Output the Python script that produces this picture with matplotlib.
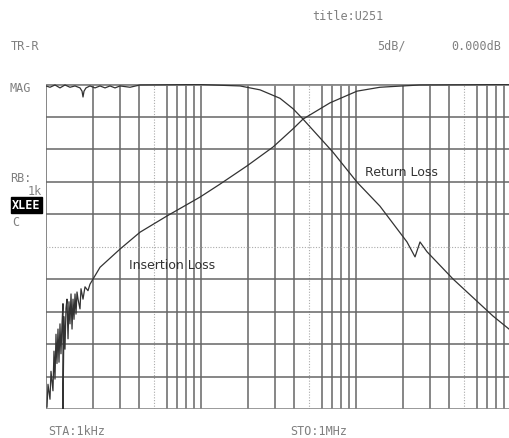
import numpy as np
import matplotlib
matplotlib.use("Agg")
import matplotlib.pyplot as plt

# insertion loss trace (Hz, dB)
ins_f = [1015, 1030, 1061, 1077, 1109, 1126, 1143, 1160, 1177, 1195, 1213, 1231, 1249, 1268,
         1287, 1287, 1307, 1326, 1346, 1366, 1387, 1407, 1428, 1450, 1472, 1494, 1516, 1539,
         1562, 1585, 1609, 1657, 1682, 1733, 1785, 1866, 1922, 2231, 3002, 4042,
         6035, 9852, 13270, 19810, 29140, 39220, 45510, 67960, 101500, 142800, 258000, 970000]
ins_db = [-49.7, -46.2, -48.5, -44.2, -47.2, -41.1, -45.4, -38.5, -43.0, -37.7, -42.8, -36.9, -41.5, -37.0,
          -33.8, -50.0, -35.8, -40.8, -34.5, -33.1, -39.2, -33.5, -36.9, -32.3, -37.7, -33.1, -36.2, -32.3,
          -35.4, -32.0, -33.1, -34.6, -31.5, -33.1, -31.2, -31.8, -30.8, -28.2, -25.4, -22.8,
          -20.3, -17.4, -15.4, -12.6, -9.7, -6.9, -5.4, -2.9, -1.1, -0.5, -0.15, -0.08]

# return loss trace (Hz, dB)
ret_f = [1000, 1061, 1143, 1231, 1326, 1428, 1539, 1657, 1708, 1733, 1759, 1811,
         1922, 2071, 2231, 2403, 2588, 2788, 3002, 3484, 4042, 9852, 17850, 24030,
         32330, 39220, 45510, 71080, 101500, 142800, 213300, 240300, 258800, 287000,
         422500, 765300, 970600]
ret_db = [-0.3, -0.5, -0.15, -0.6, -0.15, -0.5, -0.3, -0.6, -1.1, -2.0, -1.1, -0.6,
          -0.3, -0.6, -0.3, -0.6, -0.3, -0.6, -0.3, -0.5, -0.15, -0.08, -0.3, -0.9,
          -2.2, -3.8, -5.4, -10.5, -15.1, -18.8, -24.3, -26.6, -24.3, -25.8,
          -30.0, -35.7, -37.7]

W, H = 509, 439
fig = plt.figure(figsize=(W / 100, H / 100), dpi=100)
fig.patch.set_facecolor("white")

x0, x1, ytop, ybot = 46, 509, 85, 410
ax = fig.add_axes([x0 / W, 1 - ybot / H, (x1 - x0) / W, (ybot - ytop) / H])
ax.set_xscale("log")
ax.set_xlim(1e3, 10 ** (3 + (x1 - x0) / 155))
ax.set_ylim(-50, 0)
ax.axis("off")

grid_c = "#666666"
for dec in [1e3, 1e4, 1e5]:
    for m in range(1, 10):
        f = dec * m
        if m == 5:
            ax.axvline(f, color="#aaaaaa", lw=0.8, ls=(0, (1, 1.5)))
        else:
            ax.axvline(f, color=grid_c, lw=1.1)
for db in range(-45, 0, 5):
    if db == -25:
        ax.axhline(db, color="#aaaaaa", lw=0.8, ls=(0, (1, 1.5)))
    else:
        ax.axhline(db, color=grid_c, lw=1.1)
ax.axhline(0, color="#888888", lw=2.0)
ax.axhline(-50, color="#888888", lw=1.2)
ax.plot([1e3, 8.5e4], [-50.3, -50.3], color="#aaaaaa", lw=3, solid_capstyle="butt")

ax.plot(ins_f, ins_db, color="#333333", lw=0.9)
ax.plot(ret_f, ret_db, color="#333333", lw=0.9)

ax.text(3432, -27.7, "Insertion Loss", fontsize=9, color="#333333",
        family="DejaVu Sans", va="center")
ax.text(114300, -13.4, "Return Loss", fontsize=9, color="#333333",
        family="DejaVu Sans", va="center")

mono = "DejaVu Sans Mono"
def t(x, y, s, color="#808080", **kw):
    fig.text(x / W, 1 - y / H, s, fontsize=8.5, color=color, family=mono, va="center", **kw)

t(312, 16, "title:U251")
t(11, 46, "TR-R")
t(377, 46, "5dB/")
t(451, 46, "0.000dB")
t(9, 88, "MAG")
t(10, 178, "RB:")
t(28, 192, "1k")
t(12, 206, "XLEE", color="white", fontweight="bold",
  bbox=dict(boxstyle="square,pad=0.1", fc="black", ec="black"))
t(12, 223, "C")
t(48, 432, "STA:1kHz")
t(290, 432, "STO:1MHz")

fig.savefig("out.png", dpi=100)
